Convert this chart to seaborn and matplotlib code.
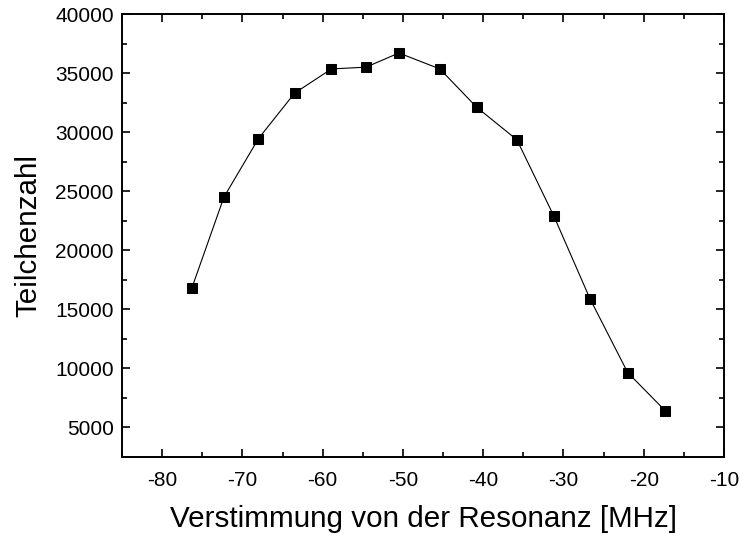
import matplotlib
matplotlib.use("Agg")
import matplotlib.pyplot as plt
import seaborn as sns
import pandas as pd
from matplotlib.ticker import MultipleLocator

detuning = [-76.3, -72.3, -68.0, -63.5, -58.9, -54.6, -50.5, -45.4, -40.8, -35.8, -31.2, -26.7, -22.0, -17.3]
counts = [16800, 24500, 29450, 33300, 35350, 35500, 36700, 35350, 32100, 29350, 22900, 15900, 9650, 6400]

xlabel = "Verstimmung von der Resonanz [MHz]"
ylabel = "Teilchenzahl"

sns.set_theme(style="ticks")
plt.rcParams['font.family'] = ['Liberation Sans', 'DejaVu Sans']
plt.rcParams['axes.unicode_minus'] = False

df = pd.DataFrame({"x": detuning, "y": counts})

fig = plt.figure(figsize=(7.41, 5.33), dpi=100)
ax = fig.add_axes([122/741, 1 - 457/533, (724-122)/741, (457-14)/533])
sns.lineplot(data=df, x="x", y="y", ax=ax, color="black", linewidth=0.8,
             marker="s", markersize=7, markeredgecolor="black", markerfacecolor="black")

ax.set_xlim(-85, -10)
ax.set_ylim(2500, 40000)
ax.xaxis.set_major_locator(MultipleLocator(10))
ax.xaxis.set_minor_locator(MultipleLocator(5))
ax.yaxis.set_minor_locator(MultipleLocator(2500))
ax.set_yticks(range(5000, 40001, 5000))
ax.tick_params(which="both", direction="in", top=True, right=True, width=1.2, color="black",
               labelsize=15, labelcolor="black")
ax.tick_params(which="major", length=6)
ax.tick_params(axis="x", which="major", pad=10)
ax.tick_params(axis="y", which="major", pad=6)
ax.tick_params(which="minor", length=3.5)
for s in ax.spines.values():
    s.set_linewidth(1.4)
    s.set_color("black")
ax.set_xlabel(xlabel, fontsize=21.3, color="black", labelpad=11)
ax.set_ylabel(ylabel, fontsize=21.3, color="black", labelpad=9)

fig.savefig("out.png", dpi=100)
